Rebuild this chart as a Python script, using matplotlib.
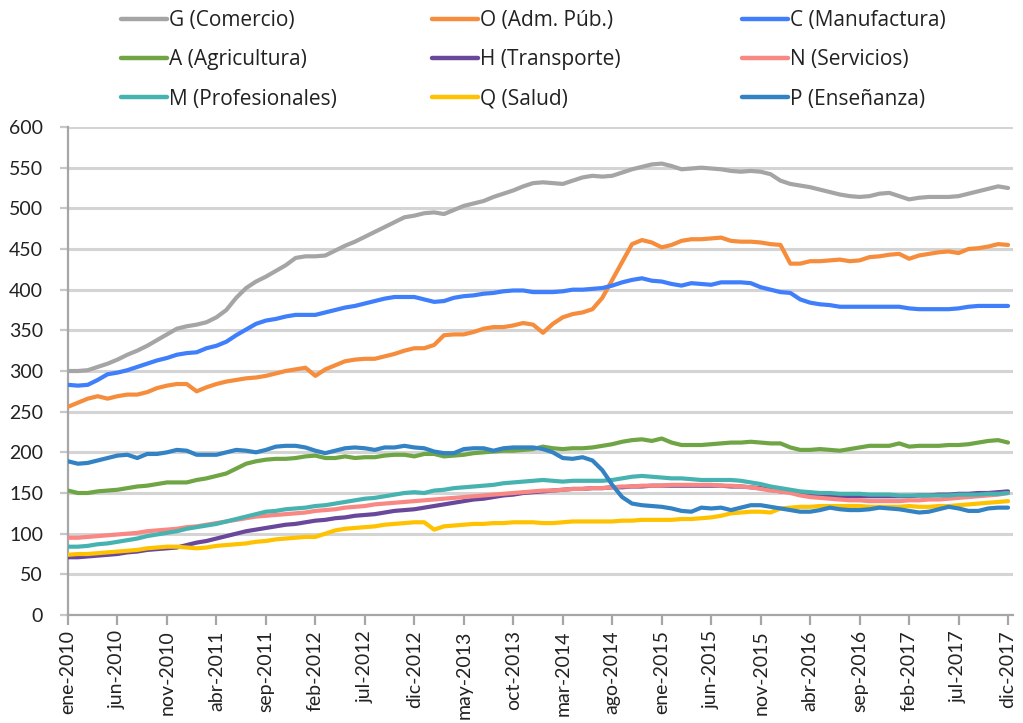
import matplotlib
matplotlib.use("Agg")
import matplotlib.pyplot as plt

plt.rcParams['font.family'] = ['Lato', 'DejaVu Sans']

months_es = ['ene', 'feb', 'mar', 'abr', 'may', 'jun', 'jul', 'ago', 'sep', 'oct', 'nov', 'dic']
years = list(range(2010, 2018))
dates = [f"{m}-{y}" for y in years for m in months_es]

G = [300, 300, 301, 305, 309, 314, 320, 325, 331, 338, 345, 352, 355, 357, 360, 366,
     375, 390, 402, 410, 416, 423, 430, 439, 441, 441, 442, 448, 454, 459, 465, 471,
     477, 483, 489, 491, 494, 495, 493, 498, 503, 506, 509, 514, 518, 522, 527, 531,
     532, 531, 530, 534, 538, 540, 539, 540, 544, 548, 551, 554, 555, 552, 548, 549,
     550, 549, 548, 546, 545, 546, 545, 542, 534, 530, 528, 526, 523, 520, 517, 515,
     514, 515, 518, 519, 515, 511, 513, 514, 514, 514, 515, 518, 521, 524, 527, 525]
O = [256, 261, 266, 269, 266, 269, 271, 271, 274, 279, 282, 284, 284, 275, 280, 284,
     287, 289, 291, 292, 294, 297, 300, 302, 304, 294, 302, 307, 312, 314, 315, 315,
     318, 321, 325, 328, 328, 332, 344, 345, 345, 348, 352, 354, 354, 356, 359, 357,
     347, 358, 366, 370, 372, 376, 390, 412, 434, 456, 461, 458, 452, 455, 460, 462,
     462, 463, 464, 460, 459, 459, 458, 456, 455, 432, 432, 435, 435, 436, 437, 435,
     436, 440, 441, 443, 444, 438, 442, 444, 446, 447, 445, 450, 451, 453, 456, 455]
C = [283, 282, 283, 289, 296, 298, 301, 305, 309, 313, 316, 320, 322, 323, 328, 331,
     336, 344, 351, 358, 362, 364, 367, 369, 369, 369, 372, 375, 378, 380, 383, 386,
     389, 391, 391, 391, 388, 385, 386, 390, 392, 393, 395, 396, 398, 399, 399, 397,
     397, 397, 398, 400, 400, 401, 402, 405, 409, 412, 414, 411, 410, 407, 405, 408,
     407, 406, 409, 409, 409, 408, 403, 400, 397, 396, 388, 384, 382, 381, 379, 379,
     379, 379, 379, 379, 379, 377, 376, 376, 376, 376, 377, 379, 380, 380, 380, 380]
A = [153, 150, 150, 152, 153, 154, 156, 158, 159, 161, 163, 163, 163, 166, 168, 171,
     174, 180, 186, 189, 191, 192, 192, 193, 195, 196, 193, 193, 195, 193, 194, 194,
     196, 197, 197, 195, 198, 198, 195, 196, 197, 199, 200, 201, 202, 202, 203, 204,
     207, 205, 204, 205, 205, 206, 208, 210, 213, 215, 216, 214, 217, 212, 209, 209,
     209, 210, 211, 212, 212, 213, 212, 211, 211, 206, 203, 203, 204, 203, 202, 204,
     206, 208, 208, 208, 211, 207, 208, 208, 208, 209, 209, 210, 212, 214, 215, 212]
H = [71, 71, 72, 73, 74, 75, 77, 78, 80, 81, 82, 83, 86, 89, 91, 94,
     97, 100, 103, 105, 107, 109, 111, 112, 114, 116, 117, 119, 120, 122, 123, 124,
     126, 128, 129, 130, 132, 134, 136, 138, 140, 142, 143, 145, 147, 148, 150, 151,
     152, 153, 154, 155, 155, 156, 156, 157, 157, 158, 158, 159, 159, 159, 159, 159,
     159, 159, 159, 158, 158, 157, 156, 154, 152, 151, 149, 148, 147, 146, 146, 146,
     146, 146, 146, 146, 146, 146, 147, 147, 148, 148, 149, 149, 150, 150, 151, 152]
N = [95, 95, 96, 97, 98, 99, 100, 101, 103, 104, 105, 106, 108, 109, 111, 113,
     115, 117, 119, 121, 122, 123, 124, 125, 126, 128, 129, 130, 132, 133, 134, 136,
     137, 138, 139, 140, 141, 142, 143, 144, 145, 146, 147, 148, 149, 150, 151, 152,
     153, 153, 154, 155, 155, 156, 156, 157, 158, 158, 159, 159, 159, 160, 160, 160,
     160, 160, 159, 159, 158, 157, 155, 153, 152, 150, 147, 145, 144, 143, 142, 141,
     141, 140, 140, 140, 140, 141, 141, 142, 142, 143, 144, 145, 146, 147, 148, 150]
M = [84, 84, 85, 87, 88, 90, 92, 94, 97, 99, 101, 103, 106, 108, 110, 112,
     115, 118, 121, 124, 127, 128, 130, 131, 132, 134, 135, 137, 139, 141, 143, 144,
     146, 148, 150, 151, 150, 153, 154, 156, 157, 158, 159, 160, 162, 163, 164, 165,
     166, 165, 164, 165, 165, 165, 165, 166, 168, 170, 171, 170, 169, 168, 168, 167,
     166, 166, 166, 166, 165, 163, 161, 158, 156, 154, 152, 151, 150, 150, 149, 149,
     149, 148, 148, 148, 147, 147, 147, 147, 147, 147, 148, 148, 148, 149, 149, 150]
Q = [74, 75, 75, 76, 77, 78, 79, 80, 82, 83, 84, 84, 83, 82, 83, 85,
     86, 87, 88, 90, 91, 93, 94, 95, 96, 96, 100, 104, 106, 107, 108, 109,
     111, 112, 113, 114, 114, 105, 109, 110, 111, 112, 112, 113, 113, 114, 114, 114,
     113, 113, 114, 115, 115, 115, 115, 115, 116, 116, 117, 117, 117, 117, 118, 118,
     119, 120, 122, 125, 126, 127, 127, 126, 131, 132, 133, 133, 134, 134, 134, 134,
     134, 133, 133, 133, 133, 134, 133, 133, 134, 134, 135, 136, 137, 138, 139, 140]
P = [189, 186, 187, 190, 193, 196, 197, 193, 198, 198, 200, 203, 202, 197, 197, 197,
     200, 203, 202, 200, 203, 207, 208, 208, 206, 202, 199, 202, 205, 206, 205, 203,
     206, 206, 208, 206, 205, 201, 199, 199, 204, 205, 205, 202, 205, 206, 206, 206,
     204, 200, 193, 192, 194, 190, 178, 160, 145, 137, 135, 134, 133, 131, 128, 127,
     132, 131, 132, 129, 132, 135, 135, 133, 131, 129, 127, 127, 129, 132, 130, 129,
     129, 130, 132, 131, 130, 128, 126, 127, 130, 133, 131, 128, 128, 131, 132, 132]

series = [
    ("G (Comercio)", G, "#a5a5a5"),
    ("O (Adm. Púb.)", O, "#f58d3d"),
    ("C (Manufactura)", C, "#3f7ffb"),
    ("A (Agricultura)", A, "#6fa544"),
    ("H (Transporte)", H, "#69479b"),
    ("N (Servicios)", N, "#f98783"),
    ("M (Profesionales)", M, "#47b3b0"),
    ("Q (Salud)", Q, "#fec200"),
    ("P (Enseñanza)", P, "#3383c4"),
]

W, Hpx = 1023, 723
fig = plt.figure(figsize=(W / 100, Hpx / 100), dpi=100)
ax = fig.add_axes([68 / W, 1 - 615 / Hpx, (1013 - 68) / W, (615 - 127) / Hpx])

x = list(range(len(dates)))
handles = []
for name, vals, col in series:
    ln, = ax.plot(x, vals, color=col, lw=3.0, solid_capstyle='round', solid_joinstyle='round', label=name, zorder=3)
    handles.append(ln)

ax.set_ylim(0, 600)
ax.set_xlim(0, 95.5)
ax.set_yticks(range(0, 601, 50))
ax.set_xticks(x[::5])
ax.set_xticklabels(dates[::5], rotation=90)
ax.grid(axis='y', color='#d4d4d4', lw=2.2, zorder=0)
ax.set_axisbelow(True)
for s in ['top', 'right']:
    ax.spines[s].set_visible(False)
for s in ['left', 'bottom']:
    ax.spines[s].set_color('#a6a6a6')
    ax.spines[s].set_linewidth(1.6)
ax.tick_params(axis='y', length=6, width=1.6, color='#c8c8c8', labelsize=14, pad=12, labelcolor='#222222')
ax.tick_params(axis='x', length=7, width=1.6, color='#a6a6a6', labelsize=14, pad=4, labelcolor='#222222')

# legend: three columns, each a legend of three entries
col_x = [121, 432, 742]
for ci in range(3):
    hs = handles[ci::3]
    leg = fig.legend(handles=hs, labels=[h.get_label() for h in hs], loc='upper left',
                     bbox_to_anchor=(col_x[ci] / W, 1 - 10 / Hpx), frameon=False,
                     prop={'family': ['Open Sans', 'DejaVu Sans'], 'size': 15},
                     handlelength=2.2, handletextpad=0.1, labelspacing=0.88,
                     borderaxespad=0, borderpad=0)
    for lh in leg.get_lines():
        lh.set_linewidth(3.2)
    for t in leg.get_texts():
        t.set_color('#222222')

fig.savefig("out.png", dpi=100)
